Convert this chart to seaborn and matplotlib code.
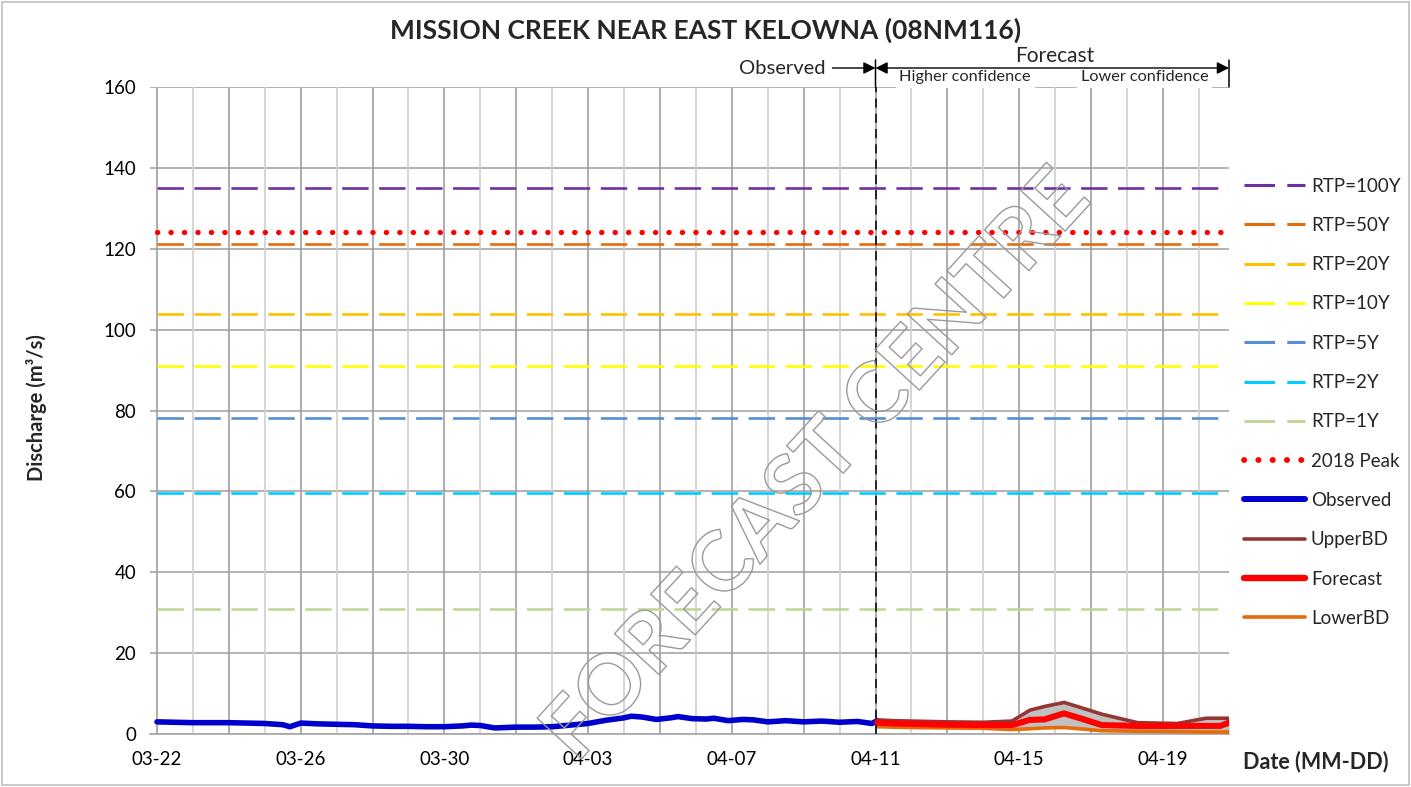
import numpy as np
import pandas as pd
import matplotlib
matplotlib.use("Agg")
import matplotlib.pyplot as plt
import matplotlib.dates as mdates
import matplotlib.ticker as mticker
import matplotlib.patheffects as pe
from matplotlib.lines import Line2D
from matplotlib.patches import Rectangle
import seaborn as sns

# ---------------- data ----------------
start_date = "2023-03-22"
end_day = 29.84          # forecast horizon (days after start)
forecast_start_day = 20.0

obs_days = [0, 0.5, 1, 1.5, 2, 2.5, 3, 3.5, 3.7, 4, 4.5, 5, 5.5, 6, 6.5, 7, 7.5, 8,
            8.5, 8.75, 9, 9.4, 10, 10.5, 11, 11.5, 12, 12.5, 13, 13.2, 13.5, 13.9,
            14.3, 14.5, 14.9, 15.3, 15.5, 15.9, 16.3, 16.6, 17, 17.5, 18, 18.5, 19,
            19.5, 19.9, 20.05]
obs_values = [3.0, 2.9, 2.8, 2.8, 2.8, 2.7, 2.6, 2.3, 1.8, 2.7, 2.5, 2.4, 2.3, 2.0,
              1.9, 1.9, 1.8, 1.8, 2.0, 2.2, 2.1, 1.5, 1.7, 1.7, 1.8, 2.2, 2.6, 3.4,
              4.0, 4.4, 4.2, 3.6, 4.0, 4.3, 3.8, 3.7, 3.9, 3.3, 3.6, 3.5, 3.0, 3.3,
              3.0, 3.2, 2.9, 3.1, 2.6, 3.3]

fc_days = [20.05, 20.5, 21, 22, 23, 23.8, 24.3, 24.7, 25.25, 25.8, 26.3, 27.3,
           28.4, 29.2, 29.6, 29.84]
upper_values = [3.5, 3.3, 3.2, 3.0, 2.9, 3.2, 5.9, 6.8, 7.8, 6.3, 4.9, 2.8, 2.6,
                3.9, 3.9, 3.9]
forecast_values = [2.8, 2.6, 2.5, 2.3, 2.2, 2.2, 3.5, 3.6, 5.1, 3.6, 2.2, 2.0, 2.0,
                   2.0, 2.0, 2.8]
lower_values = [1.8, 1.7, 1.6, 1.5, 1.4, 1.1, 1.3, 1.5, 1.6, 1.2, 0.8, 0.7, 0.6,
                0.5, 0.5, 0.5]

rtp_labels = ["RTP=100Y", "RTP=50Y", "RTP=20Y", "RTP=10Y", "RTP=5Y", "RTP=2Y", "RTP=1Y"]
rtp_values = [135.0, 121.2, 103.9, 91.0, 78.1, 59.6, 30.9]
rtp_colors = ["#7030A0", "#E46C0A", "#FFC000", "#FFFF00", "#558ED5", "#00CCFF", "#C3D69B"]
peak_label = "2018 Peak"
peak_value = 124.1

y_ticks = [0, 20, 40, 60, 80, 100, 120, 140, 160]
label_every_days = 4

title = "MISSION CREEK NEAR EAST KELOWNA (08NM116)"

# ---------------- style ----------------
sns.set_theme(style="white")
plt.rcParams["font.family"] = ["Lato", "DejaVu Sans"]

base = pd.Timestamp(start_date)
to_date = lambda d: base + pd.to_timedelta(np.asarray(d, dtype=float), unit="D")

obs_df = pd.DataFrame({"date": to_date(obs_days), "q": obs_values})
fc_df = pd.DataFrame({"date": to_date(fc_days), "upper": upper_values,
                      "fc": forecast_values, "lower": lower_values})
span_dates = to_date([0, end_day])

fig = plt.figure(figsize=(14.11, 7.87), dpi=100)
ax = fig.add_axes([150 / 1411, 53 / 787, 1079 / 1411, 647 / 787])

# threshold lines
rtp_dash = (0, (10, 4))
for lab, val, col in zip(rtp_labels, rtp_values, rtp_colors):
    sns.lineplot(x=span_dates, y=[val, val], ax=ax, color=col, lw=1.9,
                 linestyle=rtp_dash, zorder=3)
sns.lineplot(x=span_dates, y=[peak_value, peak_value], ax=ax, color="#FF0000", lw=3.8,
             linestyle=(0, (0.05, 2.5)), dash_capstyle="round", zorder=3)

# band and series
ax.fill_between(fc_df["date"], fc_df["lower"], fc_df["upper"], color="#C0C0C0",
                lw=0, zorder=2)
sns.lineplot(data=obs_df, x="date", y="q", ax=ax, color="#0000CC", lw=4.0, zorder=4)
sns.lineplot(data=fc_df, x="date", y="upper", ax=ax, color="#943634", lw=2.6, zorder=4)
sns.lineplot(data=fc_df, x="date", y="lower", ax=ax, color="#E46C0A", lw=2.6, zorder=4)
sns.lineplot(data=fc_df, x="date", y="fc", ax=ax, color="#FF0000", lw=4.4, zorder=5)

# forecast start line
ax.axvline(to_date([forecast_start_day])[0], color="black", lw=1.1,
           linestyle=(0, (6, 4)), zorder=6)

# axes
ax.set_xlim(to_date([-0.195])[0], to_date([end_day])[0])
ax.set_ylim(0, 160)
ax.set_yticks(y_ticks)
ax.xaxis.set_major_locator(mdates.DayLocator(interval=1))

def day_index(x):
    d = pd.Timestamp(mdates.num2date(x).replace(tzinfo=None))
    return int(round((d - base) / pd.Timedelta(days=1)))

def fmt(x, pos):
    d = mdates.num2date(x).replace(tzinfo=None)
    return d.strftime("%m-%d") if day_index(x) % label_every_days == 0 else ""

ax.xaxis.set_major_formatter(mticker.FuncFormatter(fmt))
ax.tick_params(axis="both", length=0, labelsize=13.5, colors="black")
ax.tick_params(axis="x", pad=12)
ax.tick_params(axis="y", pad=10)
ax.grid(axis="y", color="#A6A6A6", lw=1.2)
ax.set_axisbelow(True)
ax.set_xlabel("")
ax.set_ylabel("")
for s in ["top", "right", "left"]:
    ax.spines[s].set_visible(False)
ax.spines["bottom"].set_color("#A6A6A6")
ax.spines["bottom"].set_linewidth(1.2)

# vertical grid: alternating shades by day
for x in ax.get_xticks():
    k = day_index(x)
    if k < 0 or k > end_day:
        continue
    ax.axvline(x, color="#A0A0A0" if k % 2 == 0 else "#CFCFCF", lw=1.2, zorder=1)

# labels
fig.text(0.5, 1 - 30 / 787, title, ha="center", va="center", fontsize=19,
         fontweight="bold")
fig.text(37 / 1411, 1 - 408 / 787, "Discharge (m³/s)", rotation=90, ha="center",
         va="center", fontsize=14.5, fontweight="bold")
fig.text(1243 / 1411, 1 - 762 / 787, "Date (MM-DD)", ha="left", va="center",
         fontsize=15.5, fontweight="bold")

# observed / forecast annotations
fs_date = to_date([forecast_start_day])[0]
end_date = to_date([end_day])[0]
yarrow = 1 + 19 / 647
ax.annotate("", xy=(fs_date, yarrow), xytext=(to_date([18.8])[0], yarrow),
            xycoords=("data", "axes fraction"), textcoords=("data", "axes fraction"),
            arrowprops=dict(arrowstyle="-|>", color="black", lw=1.0,
                            mutation_scale=18, shrinkA=0, shrinkB=0), zorder=9)
ax.annotate("", xy=(end_date, yarrow), xytext=(fs_date, yarrow),
            xycoords=("data", "axes fraction"), textcoords=("data", "axes fraction"),
            arrowprops=dict(arrowstyle="<|-|>", color="black", lw=1.0,
                            mutation_scale=18, shrinkA=0, shrinkB=0), zorder=9)
for xd in [fs_date, end_date]:
    ax.annotate("", xy=(xd, 1.0), xytext=(xd, 1 + 27 / 647),
                xycoords=("data", "axes fraction"), textcoords=("data", "axes fraction"),
                arrowprops=dict(arrowstyle="-", color="black", lw=1.1,
                                shrinkA=0, shrinkB=0), zorder=9)
ax.text(to_date([18.6])[0], yarrow, "Observed", transform=ax.get_xaxis_transform(),
        ha="right", va="center", fontsize=14.5)
ax.text(to_date([24.98])[0], 1 + 31 / 647, "Forecast", transform=ax.get_xaxis_transform(),
        ha="center", va="center", fontsize=15)
for xd, txt in [(22.5, "Higher confidence"), (27.5, "Lower confidence")]:
    ax.text(to_date([xd])[0], 1 + 10 / 647, txt, transform=ax.get_xaxis_transform(),
            ha="center", va="center", fontsize=11.7, zorder=7,
            bbox=dict(facecolor="white", edgecolor="none", pad=2.6))

# legend
handles = [Line2D([], [], color=c, lw=2.2, linestyle=(0, (10, 4))) for c in rtp_colors]
handles += [Line2D([], [], color="#FF0000", lw=4.2, linestyle=(0, (0.05, 2.4)),
                   dash_capstyle="round"),
            Line2D([], [], color="#0000CC", lw=4.3, solid_capstyle="round"),
            Line2D([], [], color="#943634", lw=2.6),
            Line2D([], [], color="#FF0000", lw=4.6, solid_capstyle="round"),
            Line2D([], [], color="#E46C0A", lw=2.6)]
labels = rtp_labels + [peak_label, "Observed", "UpperBD", "Forecast", "LowerBD"]
fig.legend(handles, labels, loc="upper left", bbox_to_anchor=(1236 / 1411, 1 - 170 / 787),
           frameon=False, fontsize=13.5, handlelength=3.3, handletextpad=0.3,
           labelspacing=1.19, borderaxespad=0)

# watermark
fig.text(818 / 1411, 1 - 466 / 787, "FORECAST CENTRE", rotation=47.5,
         rotation_mode="anchor", ha="center", va="center", fontsize=60,
         fontweight="bold", color="none", zorder=20,
         path_effects=[pe.Stroke(linewidth=1.0, foreground="#9A9A9A")])

# chart border
fig.patches.append(Rectangle((2 / 1411, 2 / 787), 1 - 4 / 1411, 1 - 4 / 787,
                             transform=fig.transFigure, fill=False,
                             edgecolor="#BFBFBF", lw=1.2))

fig.savefig("out.png", dpi=100)
